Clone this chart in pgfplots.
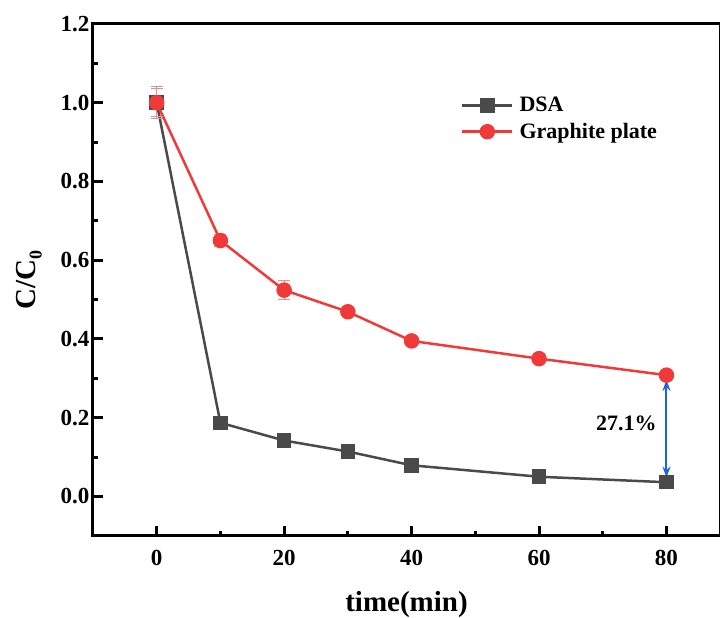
\documentclass[border=0pt]{standalone}
\usepackage{fontspec}
\setmainfont{Liberation Serif}
\usepackage{pgfplots}
\pgfplotsset{compat=1.18}
\usetikzlibrary{arrows.meta}
\definecolor{dsagray}{RGB}{74,74,74}
\definecolor{gred}{RGB}{240,58,58}
\definecolor{arrblue}{RGB}{30,100,220}
\begin{document}
\begin{tikzpicture}
\begin{axis}[
  scale only axis, width=627.3pt, height=512pt,
  xmin=-10, xmax=88.4, ymin=-0.1, ymax=1.2,
  axis line style={line width=3pt},
  xtick={0,20,40,60,80}, minor xtick={10,30,50,70},
  ytick={0,0.2,0.4,0.6,0.8,1.0,1.2}, minor ytick={0.1,0.3,0.5,0.7,0.9,1.1},
  tick pos=left,
  tick align=inside, major tick length=10pt, minor tick length=5pt,
  every tick/.style={black, line width=3pt},
  /pgf/number format/assume math mode=true,
  tick label style={font=\fontsize{23}{27}\selectfont\bfseries},
  xticklabel style={yshift=-11pt},
  yticklabel style={/pgf/number format/.cd, fixed, fixed zerofill, precision=1},
  xlabel={time(min)}, ylabel={C/C{\fontsize{18}{18}\selectfont\raisebox{-6pt}{0}}},
  label style={font=\fontsize{29}{34}\selectfont\bfseries},
  xlabel style={yshift=-19pt},
  ylabel shift=12pt,
  clip=false,
  legend style={at={(0.582,0.865)}, anchor=north west, draw=none, fill=none,
    font=\fontsize{22}{26}\selectfont\bfseries, row sep=6pt},
  legend cell align=left,
  legend image code/.code={\draw[mark repeat=2,mark phase=2] plot coordinates {(0pt,0pt) (25pt,0pt) (50pt,0pt)};},
]
\pgfplotsinvokeforeach{0,20,40,60,80}{\draw[line width=3pt] (axis cs:#1,-0.1) -- (axis cs:#1,-0.0746);}
\pgfplotsinvokeforeach{10,30,50,70}{\draw[line width=3pt] (axis cs:#1,-0.1) -- (axis cs:#1,-0.0873);}
\pgfplotsinvokeforeach{0,0.2,0.4,0.6,0.8,1.0}{\draw[line width=3pt] (axis cs:-10,#1) -- (axis cs:-8.43,#1);}
\pgfplotsinvokeforeach{0.1,0.3,0.5,0.7,0.9,1.1}{\draw[line width=3pt] (axis cs:-10,#1) -- (axis cs:-9.22,#1);}
\addplot[color=dsagray, line width=2.5pt, mark=square*, mark size=6pt, mark options={solid},
  error bars/.cd, y dir=both, y explicit,
  error bar style={line width=1pt, dsagray!50},
  error mark options={rotate=90, mark size=6pt, line width=1pt, dsagray!50}]
  coordinates {(0,1.0) +- (0,0.04) (10,0.187) +- (0,0.004) (20,0.142) +- (0,0.004) (30,0.114) +- (0,0.004) (40,0.079) +- (0,0.004) (60,0.050) +- (0,0.004) (80,0.036) +- (0,0.004)};
\addlegendentry{\hspace{4pt}DSA}
\addplot[color=gred, line width=2.5pt, mark=*, mark size=6.5pt, mark options={solid},
  error bars/.cd, y dir=both, y explicit,
  error bar style={line width=1pt, gred!60},
  error mark options={rotate=90, mark size=6pt, line width=1pt, gred!60}]
  coordinates {(0,1.0) +- (0,0.035) (10,0.650) +- (0,0.014) (20,0.524) +- (0,0.025) (30,0.469) +- (0,0.006) (40,0.395) +- (0,0.005) (60,0.350) +- (0,0.005) (80,0.308) +- (0,0.005)};
\addlegendentry{\hspace{4pt}Graphite plate}
\draw[arrblue, line width=2pt, {Stealth[length=11pt,width=8pt]}-{Stealth[length=11pt,width=8pt]}] (axis cs:80,0.048) -- (axis cs:80,0.296);
\node[font=\fontsize{22}{26}\selectfont\bfseries] at (axis cs:73.7,0.186) {27.1\%};
\end{axis}
\draw[white, line width=4pt] ([xshift=1.5pt,yshift=-1.5pt]current axis.north east) -- ([xshift=1.5pt,yshift=1.5pt]current axis.south east);
\pgfresetboundingbox
\path[use as bounding box] ([xshift=-93pt,yshift=-82pt]current axis.south west) rectangle ([yshift=24pt]current axis.north east);
\end{tikzpicture}
\end{document}
